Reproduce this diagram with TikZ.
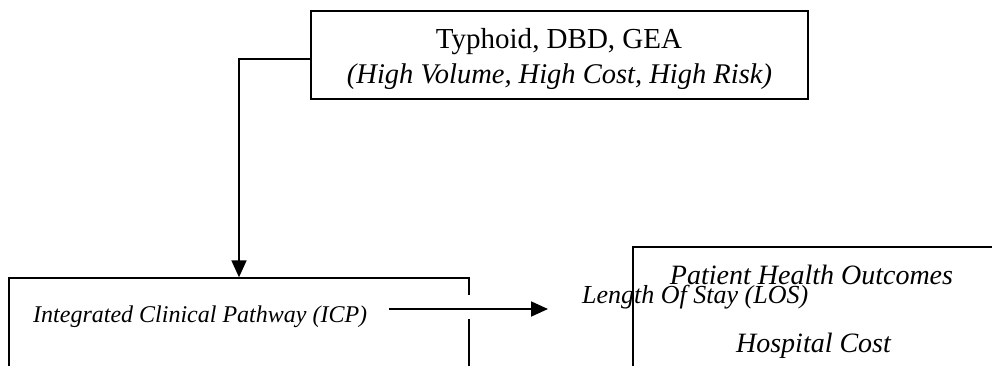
\documentclass[tikz,border=0pt]{standalone}
\usepackage{fontspec}
\setmainfont{Liberation Serif}
\usetikzlibrary{arrows.meta, positioning, calc}

\begin{document}
\begin{tikzpicture}[
      x=1pt, y=-1pt,
      caja/.style={draw, line width=1.4pt, inner sep=0pt},
      texto/.style={inner sep=0pt, anchor=base},
      flecha/.style={-{Triangle[length=17pt,width=15pt]}, line width=1.8pt}]
    \useasboundingbox (0,0) rectangle (992,365);
    \clip (0,0) rectangle (992,365);
    % cajas
    \node[caja, minimum width=497pt, minimum height=88pt] (riesgo) at (559.5,55) {};
    \node[caja, minimum width=460pt, minimum height=122pt] (icp) at (239,339) {};
    \node[caja, minimum width=367pt, minimum height=153pt] (resultado) at (816.5,323.5) {};
    % textos
    \node[texto, font=\fontsize{29}{34}\selectfont] (enfermedad) at (559,48) {Typhoid, DBD, GEA};
    \node[texto, font=\fontsize{28.5}{34}\selectfont\itshape] (criterio) at (559.5,83) {(High Volume, High Cost, High Risk)};
    \node[texto, anchor=base west, font=\fontsize{24}{28}\selectfont\itshape] (icptexto) at (33,322) {Integrated Clinical Pathway (ICP)};
    \node[texto, font=\fontsize{28}{33}\selectfont\itshape] (salud) at (811.5,284) {Patient Health Outcomes};
    \node[texto, anchor=base west, font=\fontsize{26}{31}\selectfont\itshape] (los) at (582,303) {Length Of Stay (LOS)};
    \node[texto, font=\fontsize{28}{33}\selectfont\itshape] (costo) at (813.5,352) {Hospital Cost};
    % hueco en el borde derecho
    \draw[white, line width=3pt] ([yshift=-18pt]icp.north east) -- ([yshift=-42pt]icp.north east);
    % flechas
    \draw[flecha] ([yshift=-4pt]riesgo.west) -| (icp.north);
    \draw[flecha] ([xshift=22pt,yshift=13pt]icptexto.base east) coordinate (inicio)
      -- ([xshift=-34pt]los.west |- inicio);
  \end{tikzpicture}
\end{document}
